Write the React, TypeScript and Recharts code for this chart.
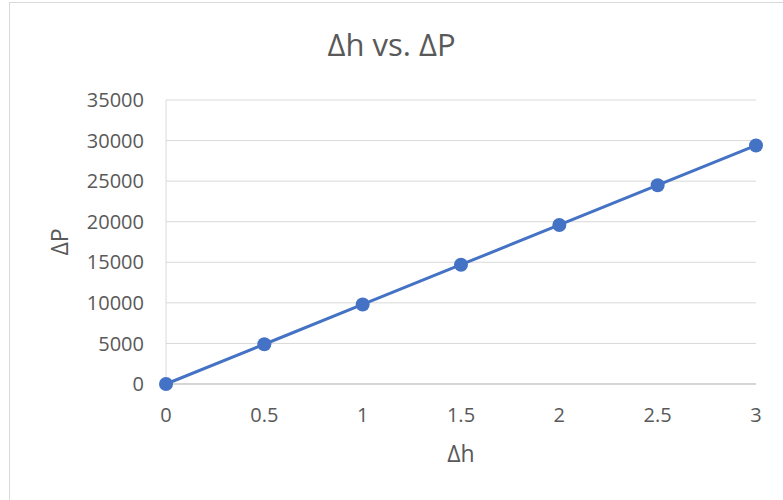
import { LineChart, Line, XAxis, YAxis, CartesianGrid } from 'recharts'

const deltaH = [0, 0.5, 1, 1.5, 2, 2.5, 3]
const deltaP = [0, 4900, 9800, 14700, 19600, 24500, 29400]
const xTicks = [0, 0.5, 1, 1.5, 2, 2.5, 3]
const yTicks = [0, 5000, 10000, 15000, 20000, 25000, 30000, 35000]

const data = deltaH.map((h, i) => ({ h, p: deltaP[i] }))

const font = '"Open Sans", sans-serif'
const textColor = '#595959'

const App = () => {
  return (
    <div style={{ position: 'absolute', left: 0, top: 0, width: 783, height: 500, overflow: 'hidden', background: '#fff', fontFamily: font }}>
      {/* chart frame, runs off the right and bottom edge */}
      <div style={{ position: 'absolute', left: 9, top: 2, width: 900, height: 600, borderLeft: '1px solid #d9d9d9', borderTop: '1px solid #d9d9d9' }} />
      <div style={{ position: 'absolute', left: 0, top: 24, width: 783, textAlign: 'center', fontSize: 31, color: textColor, lineHeight: '40px' }}>
        Δh vs. ΔP
      </div>
      <div style={{ position: 'absolute', left: 0, top: 0 }}>
        <LineChart width={783} height={500} data={data} margin={{ top: 100, right: 27, bottom: 0, left: 0 }}>
          <CartesianGrid vertical={false} stroke="#d9d9d9" strokeWidth={1} />
          <XAxis
            dataKey="h"
            type="number"
            domain={[0, 3]}
            ticks={xTicks}
            height={116}
            tickLine={false}
            tickSize={0}
            tickMargin={24}
            axisLine={{ stroke: '#bfbfbf', strokeWidth: 1 }}
            tick={{ fill: textColor, fontSize: 20, fontFamily: font }}
            label={{ value: 'Δh', position: 'insideBottom', offset: 38, fill: textColor, fontSize: 23, fontFamily: font }}
          />
          <YAxis
            type="number"
            domain={[0, 35000]}
            ticks={yTicks}
            width={166}
            tickLine={false}
            tickSize={0}
            tickMargin={22}
            axisLine={{ stroke: '#d9d9d9', strokeWidth: 1 }}
            tick={{ fill: textColor, fontSize: 20, fontFamily: font }}
            label={{ value: 'ΔP', angle: -90, position: 'insideLeft', offset: 60, fill: textColor, fontSize: 23, fontFamily: font, style: { textAnchor: 'middle' } }}
          />
          <Line
            type="linear"
            dataKey="p"
            stroke="#4472C4"
            strokeWidth={3}
            dot={{ r: 7, fill: '#4472C4', stroke: '#4472C4', strokeWidth: 0 }}
            activeDot={false}
            isAnimationActive={false}
          />
        </LineChart>
      </div>
    </div>
  )
}

export default App
